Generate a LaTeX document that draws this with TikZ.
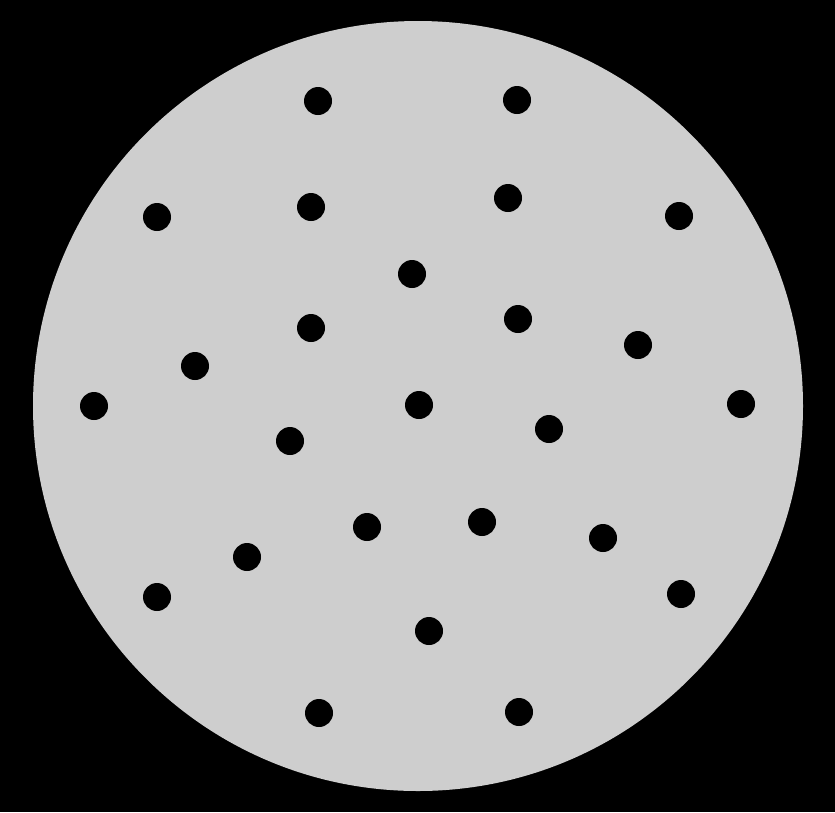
\documentclass[tikz,border=0pt]{standalone}
\definecolor{disc}{RGB}{206,206,206}
\tikzset{
  dotmark/.style={circle, fill=black, inner sep=0pt, minimum size=28pt},
}
\begin{document}
\begin{tikzpicture}[x=1pt,y=-1pt]
\fill[black] (0,0) rectangle (835,812);
\useasboundingbox (0,0) rectangle (835,812);
\node[circle, fill=disc, inner sep=0pt, minimum size=770pt] (plate) at (418,406) {};
\foreach \n/\x/\y in {
 d1/318/101, d2/517/100, d3/157/217, d4/311/207, d5/508/198, d6/679/216,
 d7/412/274, d8/311/328, d9/518/319, d10/638/345, d11/195/366, d12/94/406,
 d13/419/405, d14/741/404, d15/290/441, d16/549/429, d17/367/527, d18/482/522,
 d19/603/538, d20/247/557, d21/157/597, d22/681/594, d23/429/631, d24/319/713,
 d25/519/712}
 \node[dotmark] (\n) at (\x,\y) {};
\end{tikzpicture}
\end{document}
